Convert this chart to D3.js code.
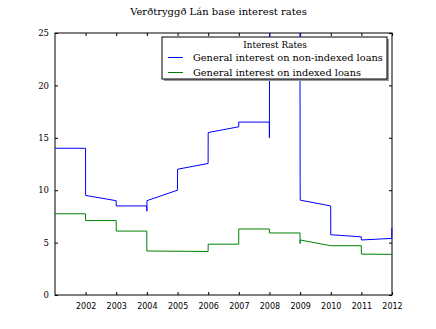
<!DOCTYPE html>
<html>
<head>
<meta charset="utf-8">
<script src="https://cdn.jsdelivr.net/npm/d3@7"></script>
<style>
  body { margin: 0; background: #fff; }
  .axis path, .axis line { stroke: #000; }
  .ylab { font-family: "DejaVu Serif", serif; font-size: 8.5px; }
  .xlab { font-family: "DejaVu Sans", sans-serif; font-size: 8px; }
</style>
</head>
<body>
<svg class="chart"></svg>
<script>
// series - general interest on non-indexed loans
let nonIndexedDates = ["2001-01-01","2001-12-31","2002-01-01","2002-12-31","2003-01-01","2003-12-31","2004-01-01","2004-01-02","2004-12-31","2005-01-01","2005-12-31","2006-01-01","2006-12-31","2007-01-01","2007-12-31","2008-01-01","2008-01-03","2008-12-30","2009-01-01","2009-01-02","2009-12-31","2010-01-01","2010-12-31","2011-01-01","2011-12-29","2011-12-30"]
let nonIndexedValues = [14.0,14.0,9.5,9.0,8.5,8.5,8.0,9.0,10.0,12.0,12.55,15.5,16.05,16.5,16.5,15.0,26.0,26.0,10.8,9.05,8.5,5.75,5.55,5.25,5.4,6.4]

// series - general interest on indexed loans
let indexedDates = ["2001-01-01","2001-12-31","2002-01-01","2002-12-31","2003-01-01","2003-12-31","2004-01-01","2005-12-31","2006-01-01","2006-12-31","2007-01-01","2007-12-31","2008-01-01","2008-12-31","2009-01-01","2009-01-02","2009-12-31","2010-12-31","2011-01-01","2012-01-01"]
let indexedValues = [7.75,7.75,7.1,7.1,6.1,6.1,4.2,4.15,4.85,4.85,6.3,6.3,5.92,5.92,4.9,5.25,4.7,4.7,3.9,3.88]

let seriesNames = ["General interest on non-indexed loans", "General interest on indexed loans"]
let xTickYears = [2002,2003,2004,2005,2006,2007,2008,2009,2010,2011,2012]
let yTicks = [0,5,10,15,20,25]

let parse = d3.timeParse("%Y-%m-%d")
let series = [
  { name: seriesNames[0], color: "#0000ff", points: nonIndexedDates.map((d, i) => ({ date: parse(d), value: nonIndexedValues[i] })) },
  { name: seriesNames[1], color: "#008000", points: indexedDates.map((d, i) => ({ date: parse(d), value: indexedValues[i] })) }
]

let margin = { top: 33, right: 44, bottom: 34, left: 55 }
let width = 436 - margin.left - margin.right
let height = 329 - margin.top - margin.bottom

let svg = d3.select('.chart')
    .attr('width', 436)
    .attr('height', 329)

// title
svg.append('text')
    .attr('x', 218.5)
    .attr('y', 15)
    .attr('text-anchor', 'middle')
    .attr('font-family', '"DejaVu Serif", serif')
    .attr('font-size', 10)
    .text("Verðtryggð Lán base interest rates")

let chart = svg.append('g')
    .attr('transform', 'translate(' + margin.left + ',' + margin.top + ')')

let x = d3.scaleTime().domain([parse("2001-01-01"), parse("2012-01-01")]).range([0, width])
let y = d3.scaleLinear().domain([0, 25]).range([height, 0])

chart.append('clipPath').attr('id', 'plotclip')
    .append('rect').attr('width', width + 1).attr('height', height)

let line = d3.line()
    .x(d => x(d.date))
    .y(d => y(d.value))

let yearDates = xTickYears.map(yr => new Date(yr, 0, 1))

// axes, ticks point inwards like matplotlib
chart.append('g').attr('class', 'axis x')
    .attr('transform', 'translate(0,' + height + ')')
    .call(d3.axisBottom(x).tickValues(yearDates).tickFormat(d3.timeFormat("%Y")).tickSizeInner(-3).tickSizeOuter(0).tickPadding(8))
    .call(g => g.selectAll('text').attr('class', 'xlab'))

chart.append('g').attr('class', 'axis')
    .call(d3.axisTop(x).tickValues(yearDates).tickFormat('').tickSizeInner(-3).tickSizeOuter(0))

chart.append('g').attr('class', 'axis y')
    .call(d3.axisLeft(y).tickValues(yTicks).tickSizeInner(-3).tickSizeOuter(0).tickPadding(6))
    .call(g => g.selectAll('text').attr('class', 'ylab'))

chart.append('g').attr('class', 'axis')
    .attr('transform', 'translate(' + width + ',0)')
    .call(d3.axisRight(y).tickValues(yTicks).tickFormat('').tickSizeInner(-3).tickSizeOuter(0))

chart.selectAll('.axis .domain').remove()
chart.append('rect')
    .attr('width', width).attr('height', height)
    .attr('fill', 'none').attr('stroke', '#000').attr('stroke-width', 1)

chart.append('g').attr('clip-path', 'url(#plotclip)')
  .selectAll('.series')
  .data(series)
  .enter()
  .append('path')
    .attr('class', 'series')
    .attr('fill', 'none')
    .attr('stroke', d => d.color)
    .attr('stroke-width', 1)
    .attr('d', d => line(d.points))

// legend
let legend = svg.append('g').attr('transform', 'translate(162,37)')
legend.append('rect')
    .attr('x', 2).attr('y', 2).attr('width', 225).attr('height', 42)
    .attr('fill', '#999')
legend.append('rect')
    .attr('width', 225).attr('height', 42)
    .attr('fill', '#fff').attr('stroke', '#000').attr('stroke-width', 1)
legend.append('text')
    .attr('x', 113).attr('y', 11)
    .attr('text-anchor', 'middle')
    .attr('font-family', '"DejaVu Serif", serif')
    .attr('font-size', 8.8)
    .text("Interest Rates")

let entry = legend.selectAll('.entry')
    .data(series)
    .enter()
    .append('g')
    .attr('transform', (d, i) => 'translate(0,' + (20.5 + i * 15) + ')')

entry.append('line')
    .attr('x1', 6).attr('x2', 21)
    .attr('stroke', d => d.color)
entry.append('text')
    .attr('x', 31).attr('y', 3.5)
    .attr('font-family', '"DejaVu Serif", serif')
    .attr('font-size', 9.8)
    .text(d => d.name)
</script>
</body>
</html>
